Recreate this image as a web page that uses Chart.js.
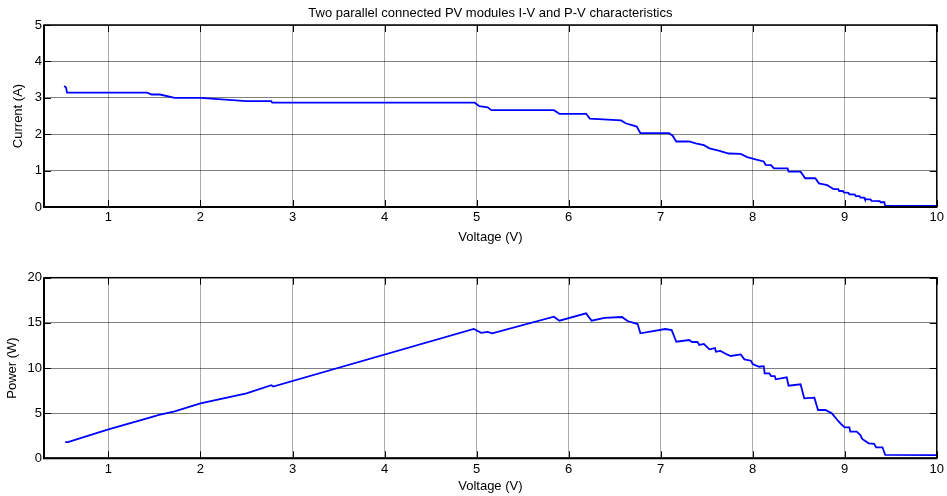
<!DOCTYPE html>
<html>
<head>
<meta charset="utf-8">
<script src="https://cdn.jsdelivr.net/npm/chart.js@4"></script>
<style>
  body { margin: 0; background: #fff; }
  .plot { width: 947px; height: 248px; }
</style>
</head>
<body>
<div class="plot"><canvas id="ivChart" width="947" height="248"></canvas></div>
<div class="plot"><canvas id="pvChart" width="947" height="248"></canvas></div>
<script>
// I-V curve
const ivVoltage = [0.52, 0.54, 0.55, 1.42, 1.47, 1.56, 1.72, 2.00, 2.50, 2.77, 2.78, 4.98, 5.03, 5.12, 5.16, 5.84, 5.90, 6.19, 6.23, 6.57, 6.62, 6.74, 6.78, 7.09, 7.13, 7.17, 7.31, 7.38, 7.47, 7.53, 7.63, 7.74, 7.87, 7.94, 8.03, 8.12, 8.14, 8.20, 8.23, 8.38, 8.39, 8.52, 8.57, 8.68, 8.72, 8.81, 8.88, 8.93, 8.94, 8.98, 8.99, 9.04, 9.05, 9.11, 9.12, 9.16, 9.17, 9.21, 9.22, 9.28, 9.29, 9.38, 9.39, 9.43, 9.44, 10.0];
const ivCurrent = [3.33, 3.28, 3.14, 3.14, 3.09, 3.09, 3.00, 3.00, 2.91, 2.91, 2.865, 2.865, 2.77, 2.74, 2.66, 2.66, 2.56, 2.56, 2.43, 2.38, 2.30, 2.21, 2.03, 2.03, 1.96, 1.80, 1.80, 1.75, 1.70, 1.61, 1.55, 1.47, 1.46, 1.37, 1.31, 1.25, 1.16, 1.15, 1.06, 1.06, 0.97, 0.97, 0.79, 0.79, 0.65, 0.60, 0.49, 0.49, 0.44, 0.44, 0.40, 0.39, 0.35, 0.34, 0.30, 0.30, 0.26, 0.26, 0.21, 0.21, 0.17, 0.16, 0.13, 0.13, 0.03, 0.03];

// P-V curve
const pvVoltage = [0.53, 0.56, 1.00, 1.42, 1.55, 1.72, 2.00, 2.50, 2.77, 2.79, 4.97, 5.05, 5.12, 5.17, 5.84, 5.90, 6.19, 6.25, 6.39, 6.58, 6.64, 6.75, 6.78, 7.05, 7.12, 7.17, 7.31, 7.34, 7.40, 7.42, 7.47, 7.53, 7.59, 7.60, 7.65, 7.72, 7.76, 7.87, 7.91, 7.98, 8.00, 8.07, 8.12, 8.13, 8.18, 8.20, 8.24, 8.25, 8.37, 8.39, 8.52, 8.56, 8.67, 8.71, 8.79, 8.86, 8.92, 8.96, 9.00, 9.05, 9.06, 9.13, 9.17, 9.19, 9.26, 9.32, 9.34, 9.41, 9.44, 10.0];
const pvPower = [1.80, 1.80, 3.20, 4.43, 4.80, 5.20, 6.09, 7.20, 8.10, 7.95, 14.32, 13.90, 14.00, 13.84, 15.68, 15.24, 16.05, 15.24, 15.54, 15.65, 15.20, 14.87, 13.84, 14.32, 14.20, 12.91, 13.10, 12.88, 12.90, 12.55, 12.66, 12.07, 12.20, 11.80, 11.90, 11.50, 11.33, 11.50, 10.96, 10.81, 10.44, 10.14, 10.20, 9.41, 9.41, 9.11, 9.11, 8.75, 8.97, 8.04, 8.19, 6.64, 6.71, 5.35, 5.35, 4.98, 4.24, 3.80, 3.43, 3.43, 2.95, 2.95, 2.58, 2.14, 1.66, 1.60, 1.22, 1.22, 0.37, 0.35];

const voltageTicks = [1, 2, 3, 4, 5, 6, 7, 8, 9, 10];
const currentTicks = [0, 1, 2, 3, 4, 5];
const powerTicks = [0, 5, 10, 15, 20];

Chart.defaults.font.family = '"Liberation Sans", Arial, sans-serif';
Chart.defaults.font.size = 13;
Chart.defaults.color = '#000';

// black box and inward tick marks, matlab style
const matlabFrame = {
    id: 'matlabFrame',
    afterDraw(chart) {
        const { ctx, chartArea: a, scales: { x, y } } = chart;
        ctx.save();
        ctx.strokeStyle = '#000';
        ctx.lineWidth = 1;
        ctx.beginPath();
        x.ticks.forEach(t => {
            const px = Math.round(x.getPixelForValue(t.value)) + 0.5;
            ctx.moveTo(px, a.top); ctx.lineTo(px, a.top + 7);
            ctx.moveTo(px, a.bottom); ctx.lineTo(px, a.bottom - 7);
        });
        y.ticks.forEach(t => {
            const py = Math.round(y.getPixelForValue(t.value)) + 0.5;
            ctx.moveTo(a.left, py); ctx.lineTo(a.left + 7, py);
            ctx.moveTo(a.right, py); ctx.lineTo(a.right - 7, py);
        });
        ctx.stroke();
        ctx.lineWidth = 1.5;
        ctx.strokeRect(a.left, a.top, a.right - a.left, a.bottom - a.top);
        ctx.lineWidth = 2;
        ctx.beginPath();
        ctx.moveTo(a.left, a.top); ctx.lineTo(a.left, a.bottom); ctx.lineTo(a.right, a.bottom);
        ctx.stroke();
        ctx.restore();
    }
};

function makeChart(id, xs, ys, yTicks, yMax, yLabel, opts) {
    const ctx = document.getElementById(id).getContext('2d');
    return new Chart(ctx, {
        type: 'line',
        data: {
            datasets: [{
                data: xs.map((v, i) => ({ x: v, y: ys[i] })),
                borderColor: '#0000ff',
                borderWidth: 1.8,
                pointRadius: 0,
                tension: 0,
                fill: false
            }]
        },
        options: {
            responsive: false,
            animation: false,
            layout: { padding: { left: 0, right: 9, top: opts.padTop, bottom: 0 } },
            plugins: {
                legend: { display: false },
                tooltip: { enabled: false },
                title: opts.title ? {
                    display: true,
                    text: opts.title,
                    fullSize: false,
                    font: { size: 13, weight: 'normal' },
                    padding: { top: 5.5, bottom: 3.9 }
                } : { display: false }
            },
            scales: {
                x: {
                    type: 'linear',
                    min: 0.3,
                    max: 10,
                    afterBuildTicks: s => { s.ticks = voltageTicks.map(v => ({ value: v })); },
                    afterFit: s => { s.height = opts.xAxisHeight; },
                    grid: { color: 'rgba(0,0,0,0.33)', drawTicks: false },
                    border: { display: false },
                    ticks: { padding: 3, maxRotation: 0 },
                    title: { display: true, text: 'Voltage (V)', padding: { top: 0, bottom: opts.xTitlePad } }
                },
                y: {
                    min: 0,
                    max: yMax,
                    afterBuildTicks: s => { s.ticks = yTicks.map(v => ({ value: v })); },
                    afterFit: s => { s.width = 44; },
                    grid: { color: 'rgba(0,0,0,0.5)', drawTicks: false },
                    border: { display: false },
                    ticks: { padding: 2 },
                    title: { display: true, text: yLabel, padding: { top: opts.yTitlePad, bottom: 0 } }
                }
            }
        },
        plugins: [matlabFrame]
    });
}

makeChart('ivChart', ivVoltage, ivCurrent, currentTicks, 5, 'Current (A)', {
    title: 'Two parallel connected PV modules I-V and P-V characteristics',
    padTop: 0, xAxisHeight: 41, xTitlePad: 2.7, yTitlePad: 11
});

makeChart('pvChart', pvVoltage, pvPower, powerTicks, 20, 'Power (W)', {
    title: null,
    padTop: 29.7, xAxisHeight: 37.7, xTitlePad: 2.2, yTitlePad: 4.5
});
</script>
</body>
</html>
